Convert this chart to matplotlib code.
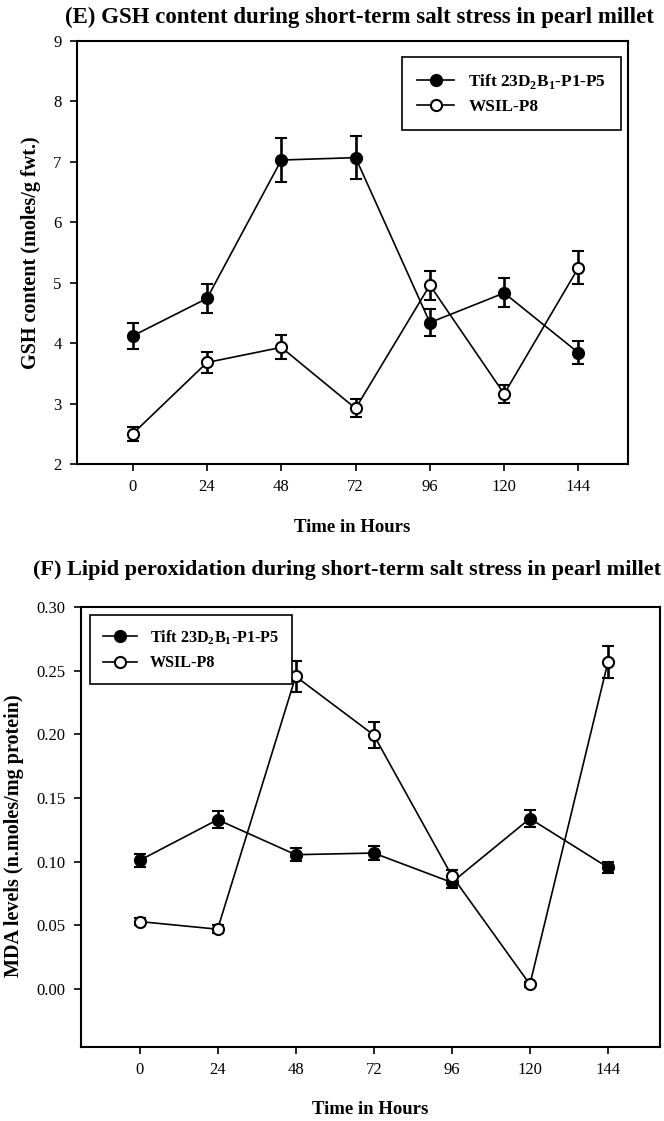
import matplotlib
matplotlib.use("Agg")
import matplotlib.pyplot as plt
from matplotlib.lines import Line2D
import numpy as np

plt.rcParams['font.family'] = ['Liberation Serif', 'DejaVu Serif']
plt.rcParams['mathtext.fontset'] = 'custom'
plt.rcParams['mathtext.rm'] = 'Liberation Serif'
plt.rcParams['mathtext.bf'] = 'Liberation Serif:bold'

# Sampling times (hours)
hours = [0, 24, 48, 72, 96, 120, 144]

# GSH content (moles/g fwt.)
gsh_tift = [4.12, 4.74, 7.03, 7.07, 4.34, 4.83, 3.84]
gsh_tift_err = [0.21, 0.24, 0.36, 0.36, 0.22, 0.24, 0.19]
gsh_wsil = [2.50, 3.68, 3.93, 2.92, 4.96, 3.16, 5.25]
gsh_wsil_err = [0.12, 0.18, 0.20, 0.15, 0.24, 0.15, 0.27]

# MDA levels (n.moles/mg protein)
mda_tift = [0.101, 0.133, 0.1055, 0.1068, 0.0837, 0.1339, 0.0955]
mda_tift_err = [0.005, 0.0068, 0.0052, 0.0052, 0.0046, 0.0066, 0.0046]
mda_wsil = [0.053, 0.047, 0.2455, 0.1995, 0.089, 0.0037, 0.2568]
mda_wsil_err = [0.003, 0.003, 0.012, 0.0101, 0.0043, 0.002, 0.0125]

label_tift = r'Tift 23D$_\mathbf{2}$B$_\mathbf{1}$-P1-P5'
label_wsil = 'WSIL-P8'

W, H = 664, 1121
fig = plt.figure(figsize=(W / 100, H / 100), dpi=100)


def make_axes(l, r, t, b):
    return fig.add_axes([l / W, 1 - b / H, (r - l) / W, (b - t) / H])


def draw_series(ax, y, err, filled):
    ax.errorbar(hours, y, yerr=err, color='black', lw=1.2,
                elinewidth=1.9, capsize=4.5, capthick=1.9,
                marker='o', markersize=8,
                markerfacecolor='black' if filled else 'white',
                markeredgecolor='black', markeredgewidth=1.5, zorder=3)


def legend_handles():
    return [Line2D([], [], color='black', lw=1.2, marker='o', markersize=8,
                   markerfacecolor=fc, markeredgecolor='black',
                   markeredgewidth=1.5)
            for fc in ('black', 'white')]


def style_axes(ax):
    for s in ax.spines.values():
        s.set_linewidth(1.5)
    ax.tick_params(direction='out', length=5, width=1.2, pad=6,
                   labelsize=12, top=False, right=False)
    ax.set_xticks(hours)
    ax.set_xlim(-18, 160)


# ---- (E) GSH content ----
ax1 = make_axes(77, 628, 41, 464)
draw_series(ax1, gsh_tift, gsh_tift_err, True)
draw_series(ax1, gsh_wsil, gsh_wsil_err, False)
style_axes(ax1)
ax1.set_ylim(2, 9)
ax1.set_yticks(range(2, 10))
ax1.set_ylabel('GSH content (moles/g fwt.)', fontsize=14.5, fontweight='bold')
ax1.yaxis.set_label_coords(-0.066, 0.5)
ax1.set_xlabel('Time in Hours', fontsize=13.5, fontweight='bold')
ax1.xaxis.set_label_coords(0.5, -0.13)
leg1 = ax1.legend(legend_handles(), [label_tift, label_wsil],
                  loc='upper right', bbox_to_anchor=(0.987, 0.962),
                  borderaxespad=0, fancybox=False, edgecolor='black',
                  framealpha=1, prop={'weight': 'bold', 'size': 12.4},
                  handlelength=2.2, borderpad=0.85, labelspacing=0.5)
leg1.get_frame().set_linewidth(1.2)
fig.text(359 / W, 1 - 17 / H,
         '(E) GSH content during short-term salt stress in pearl millet',
         ha='center', va='center', fontsize=16.5, fontweight='bold')

# ---- (F) Lipid peroxidation ----
ax2 = make_axes(81, 660, 607, 1047)
draw_series(ax2, mda_tift, mda_tift_err, True)
draw_series(ax2, mda_wsil, mda_wsil_err, False)
style_axes(ax2)
ax2.set_ylim(-0.0455, 0.30)
mda_ticks = np.arange(0, 0.301, 0.05)
ax2.set_yticks(mda_ticks)
ax2.set_yticklabels([f'{v:.2f}' for v in mda_ticks])
ax2.set_ylabel('MDA levels (n.moles/mg protein)', fontsize=14.5, fontweight='bold')
ax2.yaxis.set_label_coords(-0.099, 0.48)
ax2.set_xlabel('Time in Hours', fontsize=13.5, fontweight='bold')
ax2.xaxis.set_label_coords(0.5, -0.122)
leg2 = ax2.legend(legend_handles(), [label_tift, label_wsil],
                  loc='upper left', bbox_to_anchor=(0.016, 0.982),
                  borderaxespad=0, fancybox=False, edgecolor='black',
                  framealpha=1, prop={'weight': 'bold', 'size': 11.6},
                  handlelength=2.1, borderpad=0.8, labelspacing=0.55)
leg2.get_frame().set_linewidth(1.2)
fig.text(347 / W, 1 - 570 / H,
         '(F) Lipid peroxidation during short-term salt stress in pearl millet',
         ha='center', va='center', fontsize=16.0, fontweight='bold')

fig.savefig('out.png', dpi=100)
